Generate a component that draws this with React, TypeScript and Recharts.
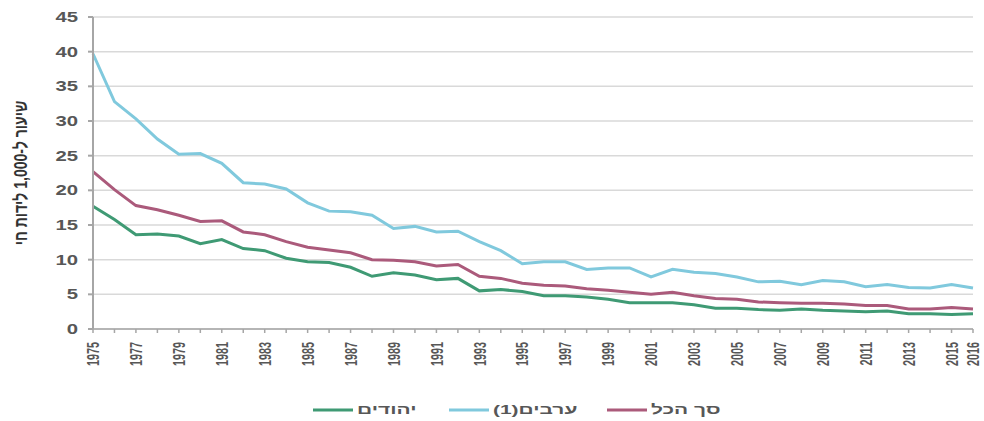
import React from 'react';
import { LineChart, Line, XAxis, YAxis, CartesianGrid, Legend } from 'recharts';

const years = [
  '1975', '1976', '1977', '1978', '1979', '1980', '1981', '1982', '1983', '1984',
  '1985', '1986', '1987', '1988', '1989', '1990', '1991', '1992', '1993', '1994',
  '1995', '1996', '1997', '1998', '1999', '2000', '2001', '2002', '2003', '2004',
  '2005', '2006', '2007', '2008', '2009', '2010', '2011', '2012', '2013', '2014',
  '2015', '2016',
];

const jews = [
  17.7, 15.8, 13.6, 13.7, 13.4, 12.3, 12.9, 11.6, 11.3, 10.2,
  9.7, 9.6, 8.9, 7.6, 8.1, 7.8, 7.1, 7.3, 5.5, 5.7,
  5.4, 4.8, 4.8, 4.6, 4.3, 3.8, 3.8, 3.8, 3.5, 3.0,
  3.0, 2.8, 2.7, 2.9, 2.7, 2.6, 2.5, 2.6, 2.2, 2.2,
  2.1, 2.2,
];

const arabs = [
  39.7, 32.8, 30.3, 27.4, 25.2, 25.3, 23.9, 21.1, 20.9, 20.2,
  18.2, 17.0, 16.9, 16.4, 14.5, 14.8, 14.0, 14.1, 12.6, 11.3,
  9.4, 9.7, 9.7, 8.6, 8.8, 8.8, 7.5, 8.6, 8.2, 8.0,
  7.5, 6.8, 6.9, 6.4, 7.0, 6.8, 6.1, 6.4, 6.0, 5.9,
  6.4, 5.9,
];

const total = [
  22.7, 20.1, 17.8, 17.2, 16.4, 15.5, 15.6, 14.0, 13.6, 12.6,
  11.8, 11.4, 11.0, 10.0, 9.9, 9.7, 9.1, 9.3, 7.6, 7.3,
  6.6, 6.3, 6.2, 5.8, 5.6, 5.3, 5.0, 5.3, 4.8, 4.4,
  4.3, 3.9, 3.8, 3.7, 3.7, 3.6, 3.4, 3.4, 2.9, 2.9,
  3.1, 2.9,
];

const yTicks = [0, 5, 10, 15, 20, 25, 30, 35, 40, 45];

const series = [
  { key: 'jews', name: 'יהודים', color: '#3f9a74' },
  { key: 'arabs', name: 'ערבים(1)', color: '#80c9dd' },
  { key: 'total', name: 'סך הכל', color: '#ab5a7b' },
];

const yLabel = 'שיעור ל-1,000 לידות חי';

const data = years.map((year, i) => ({
  year,
  jews: jews[i],
  arabs: arabs[i],
  total: total[i],
}));

const FONT = '"Liberation Sans", Arial, sans-serif';
const TEXT = '#575757';

// the source picture is stretched sideways, so the text is too
const YTick = ({ x, y, payload }: any) => (
  <text
    transform={`translate(${x},${y}) scale(1.45,1)`}
    textAnchor="end"
    dy="0.36em"
    fontFamily={FONT}
    fontWeight="bold"
    fontSize={14}
    fill={TEXT}
  >
    {payload.value}
  </text>
);

const XTick = ({ x, y, payload, index }: any) => {
  if (index % 2 !== 0 && index !== years.length - 1) return null;
  return (
    <text
      transform={`translate(${x},${y + 7}) scale(1.6,1) rotate(-90)`}
      textAnchor="end"
      dy="0.36em"
      fontFamily={FONT}
      fontWeight="bold"
      fontSize={10.8}
      fill={TEXT}
    >
      {payload.value}
    </text>
  );
};

const YLabel = ({ viewBox }: any) => {
  const cx = viewBox.x + 20;
  const cy = viewBox.y + viewBox.height / 2;
  return (
    <text
      transform={`translate(${cx},${cy}) scale(1.35,1) rotate(-90)`}
      textAnchor="middle"
      dy="0.36em"
      fontFamily={FONT}
      fontWeight="bold"
      fontSize={14}
      fill="#333"
    >
      {yLabel}
    </text>
  );
};

// left edge of each legend entry
const legendLeft = [313, 449, 607];

const LegendContent = () => (
  <div style={{ position: 'relative', height: 23 }}>
    {series.map((s, i) => (
      <div
        key={s.key}
        style={{ position: 'absolute', left: legendLeft[i], top: 0, height: 23, display: 'flex', alignItems: 'center' }}
      >
        <svg width={40} height={6}>
          <line x1={0} y1={3} x2={40} y2={3} stroke={s.color} strokeWidth={3} />
        </svg>
        <span
          dir="rtl"
          style={{
            fontFamily: FONT,
            fontWeight: 'bold',
            fontSize: 13.5,
            color: TEXT,
            marginLeft: 4,
            display: 'inline-block',
            whiteSpace: 'nowrap',
            transform: 'scaleX(1.55)',
            transformOrigin: 'left center',
          }}
        >
          {s.name}
        </span>
      </div>
    ))}
  </div>
);

export default function App() {
  return (
    <div style={{ position: 'absolute', left: 0, top: 0, width: 984, height: 421, background: '#fff' }}>
      <LineChart
        width={984}
        height={421}
        data={data}
        margin={{ top: 17, right: 11, left: 0, bottom: 0 }}
      >
        <CartesianGrid vertical={false} stroke="#d9d9d9" strokeWidth={1.5} />
        <XAxis
          dataKey="year"
          interval={0}
          height={69}
          stroke="#a6a6a6"
          strokeWidth={1.5}
          tickSize={4}
          tick={<XTick />}
        />
        <YAxis
          width={93}
          domain={[0, 45]}
          ticks={yTicks}
          interval={0}
          stroke="#a6a6a6"
          strokeWidth={2}
          tickSize={5}
          tickMargin={10}
          tick={<YTick />}
          label={<YLabel />}
        />
        <Legend
          verticalAlign="bottom"
          height={23}
          wrapperStyle={{ left: 0, width: 984 }}
          content={<LegendContent />}
        />
        {series.map((s) => (
          <Line
            key={s.key}
            type="linear"
            dataKey={s.key}
            name={s.name}
            stroke={s.color}
            strokeWidth={3}
            dot={false}
            activeDot={false}
            isAnimationActive={false}
          />
        ))}
      </LineChart>
    </div>
  );
}
